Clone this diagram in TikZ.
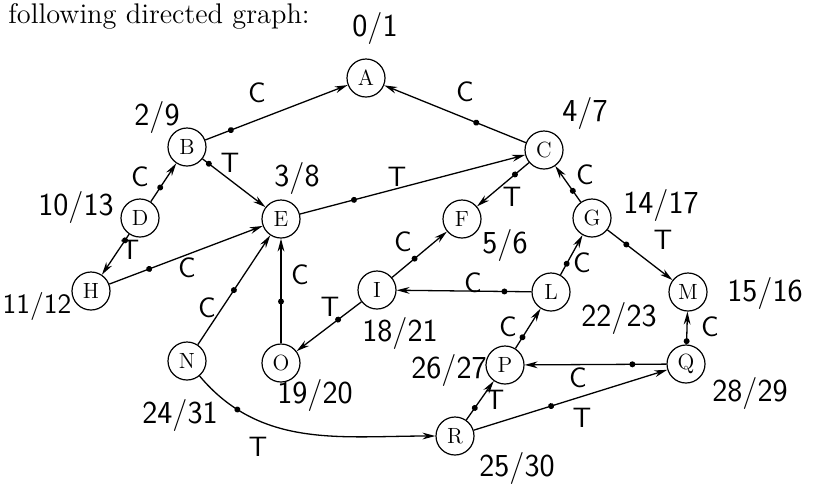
\documentclass[tikz,border=0pt]{standalone}
\usepackage{fontspec}
\usepackage{tikz}
\usetikzlibrary{arrows.meta,decorations.markings}

\begin{document}
\begin{tikzpicture}[x=0.5pt,y=-0.5pt,
vtx/.style={draw,circle,line width=0.6pt,minimum size=19pt,inner sep=0pt,
font=\fontsize{11}{12}\selectfont},
num/.style={font=\sffamily\fontsize{16}{18}\selectfont,inner sep=1pt},
lbl/.style={font=\sffamily\fontsize{14}{16}\selectfont,inner sep=1pt},
arc/.style={-{Stealth[length=6.5pt,width=3.4pt]},line width=0.65pt},
dotat/.style={postaction={decorate},decoration={markings,
mark=at position #1 with {\fill (0,0) circle (1.5pt);}}}]
\useasboundingbox (0,0) rectangle (814,495);
\node[anchor=base west,inner sep=0pt,font=\fontsize{14.2}{16}\selectfont] (cap) at (8,23)
{following directed graph:};

\node[vtx] (A) at (366,78) {A};
\node[vtx] (B) at (187,147) {B};
\node[vtx] (C) at (544,150) {C};
\node[vtx] (D) at (140,218) {D};
\node[vtx] (E) at (281,219) {E};
\node[vtx] (F) at (462,219) {F};
\node[vtx] (G) at (592,218) {G};
\node[vtx] (H) at (91,291) {H};
\node[vtx] (I) at (377,290) {I};
\node[vtx] (L) at (551,292) {L};
\node[vtx] (M) at (688,292) {M};
\node[vtx] (N) at (187,361) {N};
\node[vtx] (O) at (281,363) {O};
\node[vtx] (P) at (505,365) {P};
\node[vtx] (Q) at (686,364) {Q};
\node[vtx] (R) at (455,436) {R};

\draw[arc,dotat=.18] (B)--(A);
\draw[arc,dotat=.35] (C)--(A);
\draw[arc,dotat=.1] (B)--(E);
\draw[arc,dotat=.37] (D)--(B);
\draw[arc,dotat=.15] (D)--(H);
\draw[arc,dotat=.26] (H)--(E);
\draw[arc,dotat=.24] (E)--(C);
\draw[arc,dotat=.27] (C)--(F);
\draw[arc,dotat=.31] (G)--(C);
\draw[arc,dotat=.29] (G)--(M);
\draw[arc,dotat=.41] (I)--(F);
\draw[arc,dotat=.2] (L)--(I);
\draw[arc,dotat=.28] (L)--(G);
\draw[arc,dotat=.36] (I)--(O);
\draw[arc,dotat=.4] (O)--(E);
\draw[arc,dotat=.5] (N)--(E);
\draw[arc,dotat=.2] (N) to[out=-50,in=180] (R);
\draw[arc,dotat=.28] (P)--(L);
\draw[arc,dotat=.24] (Q)--(P);
\draw[arc,dotat=.1] (Q)--(M);
\draw[arc,dotat=.31] (R)--(P);
\draw[arc,dotat=.4] (R)--(Q);

\node[num] (nA) at (375,28) {0/1};
\node[num] (nB) at (157,117) {2/9};
\node[num] (nC) at (585,113) {4/7};
\node[num] (nD) at (76,207) {10/13};
\node[num] (nE) at (297,178) {3/8};
\node[num] (nF) at (505,245) {5/6};
\node[num] (nG) at (661,205) {14/17};
\node[num,font=\sffamily\fontsize{14}{16}\selectfont] (nH) at (37,306) {11/12};
\node[num] (nI) at (400,333) {18/21};
\node[num] (nL) at (619,318) {22/23};
\node[num] (nM) at (765,293) {15/16};
\node[num] (nN) at (180,415) {24/31};
\node[num] (nO) at (315,395) {19/20};
\node[num] (nP) at (449,370) {26/27};
\node[num] (nQ) at (750,393) {28/29};
\node[num] (nR) at (517,468) {25/30};

\node[lbl] (tBA) at (257,93) {C};
\node[lbl] (tCA) at (465,92) {C};
\node[lbl] (tBE) at (230,163) {T};
\node[lbl] (tEC) at (397,177) {T};
\node[lbl] (tDB) at (140,177) {C};
\node[lbl] (tDH) at (130,250) {T};
\node[lbl] (tHE) at (187,268) {C};
\node[lbl] (tCF) at (512,197) {T};
\node[lbl] (tGC) at (585,175) {C};
\node[lbl] (tGM) at (663,240) {T};
\node[lbl] (tIF) at (403,242) {C};
\node[lbl] (tLI) at (473,283) {C};
\node[lbl] (tLG) at (582,263) {C};
\node[lbl] (tIO) at (330,307) {T};
\node[lbl] (tOE) at (300,275) {C};
\node[lbl] (tNE) at (207,308) {C};
\node[lbl] (tNR) at (258,447) {T};
\node[lbl] (tPL) at (508,327) {C};
\node[lbl] (tQP) at (578,378) {C};
\node[lbl] (tQM) at (710,327) {C};
\node[lbl] (tRP) at (495,400) {T};
\node[lbl] (tRQ) at (582,418) {T};
\end{tikzpicture}
\end{document}
